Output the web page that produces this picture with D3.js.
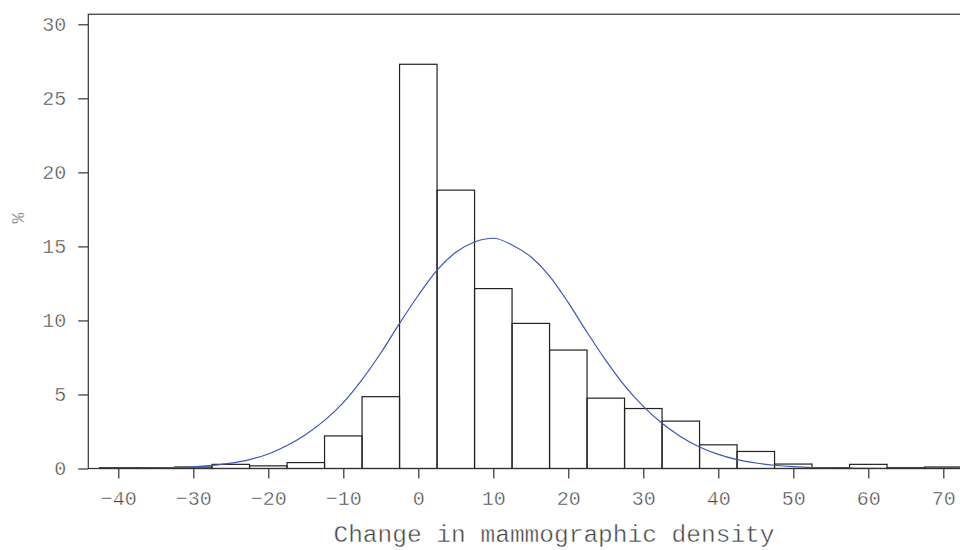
<!DOCTYPE html>
<html>
<head>
<meta charset="utf-8">
<script src="https://cdn.jsdelivr.net/npm/d3@7"></script>
<style>
  body { margin: 0; background: #fff; }
  text { font-family: "Liberation Mono", "Courier New", monospace; fill: #444;
         stroke: #fff; stroke-width: 0.45px; paint-order: fill; }
</style>
</head>
<body>
<svg id="chart" width="960" height="550"></svg>
<script>
// histogram bins (centre of each 5-unit bin) and share of women, %
var binCentres = [-40, -35, -30, -25, -20, -15, -10, -5, 0, 5, 10, 15, 20, 25, 30, 35, 40, 45, 50, 55, 60, 65, 70];
var binPercent = [0.05, 0.05, 0.1, 0.28, 0.18, 0.4, 2.2, 4.85, 27.3, 18.8, 12.15, 9.8, 8.0, 4.75, 4.05, 3.2, 1.6, 1.15, 0.3, 0.05, 0.28, 0.05, 0.1];

// fitted normal curve, every 2.5 units
var curveX = [-42.5, -40, -37.5, -35, -32.5, -30, -27.5, -25, -22.5, -20, -17.5, -15, -12.5, -10, -7.5, -5, -2.5,
  0, 2.5, 5, 7.5, 10, 12.5, 15, 17.5, 20, 22.5, 25, 27.5, 30, 32.5, 35, 37.5, 40, 42.5, 45, 47.5, 50,
  52.5, 55, 57.5, 60, 62.5, 65, 67.5, 70, 72.5];
var curveY = [0, 0.01, 0.01, 0.03, 0.06, 0.11, 0.21, 0.36, 0.6, 0.98, 1.55, 2.3, 3.25, 4.45, 6.0, 7.8, 9.8,
  11.7, 13.4, 14.6, 15.3, 15.55, 15.1, 14.3, 13.0, 11.2, 9.2, 7.3, 5.6, 4.2, 3.05, 2.15, 1.45, 0.95, 0.6, 0.37, 0.22, 0.12,
  0.06, 0.03, 0.02, 0.01, 0, 0, 0, 0, 0];

var xTicks = [-40, -30, -20, -10, 0, 10, 20, 30, 40, 50, 60, 70];
var yTicks = [0, 5, 10, 15, 20, 25, 30];
var binWidth = 5;

var svg = d3.select("#chart");

var x = d3.scaleLinear().domain([-44, 76]).range([88.3, 988.3]);
var y = d3.scaleLinear().domain([0, 30]).range([468.5, 24.3]);

var plotTop = y(30.68), plotBottom = y(0);

// bars
svg.append("g").selectAll("rect")
  .data(binCentres)
  .enter().append("rect")
  .attr("x", function(d) { return x(d - binWidth / 2); })
  .attr("width", function(d) { return x(d + binWidth / 2) - x(d - binWidth / 2); })
  .attr("y", function(d, i) { return y(binPercent[i]); })
  .attr("height", function(d, i) { return y(0) - y(binPercent[i]); })
  .attr("fill", "none")
  .attr("stroke", "#222")
  .attr("stroke-width", 1.2);

// normal curve
var line = d3.line()
  .x(function(d, i) { return x(curveX[i]); })
  .y(function(d) { return y(d); })
  .curve(d3.curveMonotoneX);

svg.append("path")
  .datum(curveY)
  .attr("d", line)
  .attr("fill", "none")
  .attr("stroke", "#3a59b4")
  .attr("stroke-width", 1.2);

// frame
svg.append("rect")
  .attr("x", x(-44))
  .attr("y", plotTop)
  .attr("width", 960)
  .attr("height", plotBottom - plotTop)
  .attr("fill", "none")
  .attr("stroke", "#333")
  .attr("stroke-width", 1.2);

// axes
var xAxis = d3.axisBottom(x).tickValues(xTicks).tickSize(10).tickPadding(12);
var gx = svg.append("g").attr("transform", "translate(0," + plotBottom + ")").call(xAxis);
gx.select(".domain").remove();

var yAxis = d3.axisLeft(y).tickValues(yTicks).tickSize(10).tickPadding(12);
var gy = svg.append("g").attr("transform", "translate(" + x(-44) + ",0)").call(yAxis);
gy.select(".domain").remove();

svg.selectAll(".tick line").attr("stroke", "#333").attr("stroke-width", 1.2);
svg.selectAll(".tick text")
  .style("font-family", '"Liberation Mono", "Courier New", monospace')
  .style("font-size", "20px")
  .attr("fill", "#444");

// axis titles
svg.append("text")
  .attr("x", 554)
  .attr("y", 542)
  .attr("text-anchor", "middle")
  .style("font-size", "24.5px")
  .text("Change in mammographic density");

svg.append("text")
  .attr("transform", "translate(24,218) rotate(-90)")
  .attr("text-anchor", "middle")
  .style("font-size", "18px")
  .text("%");
</script>
</body>
</html>
